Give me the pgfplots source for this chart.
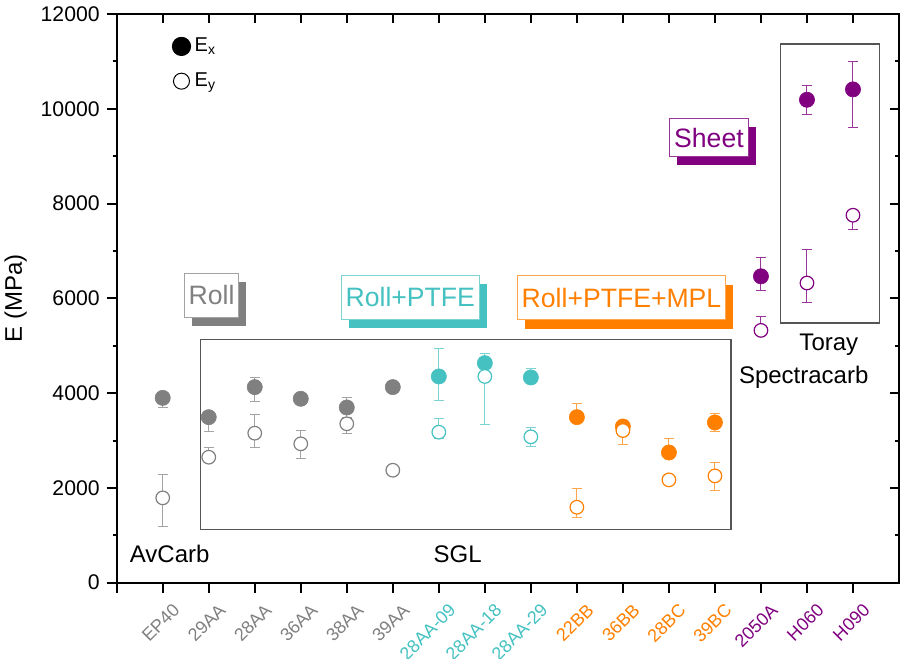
\documentclass[border=0pt]{standalone}
\usepackage{pgfplots}
\usepackage{pgfplotstable}
\pgfplotsset{compat=1.18}
\usepackage{fontspec}
\setmainfont{Liberation Sans}
\usetikzlibrary{shadows}
\definecolor{cgray}{HTML}{808080}
\definecolor{cgrayL}{HTML}{A3A3A3}
\definecolor{cteal}{HTML}{45C1C1}
\definecolor{ctealL}{HTML}{7CD3D3}
\definecolor{corange}{HTML}{FF8000}
\definecolor{corangeL}{HTML}{FFA64D}
\definecolor{cpurple}{HTML}{800080}
\definecolor{cpurpleL}{HTML}{9A339A}
\definecolor{cbox}{HTML}{555555}

% Ex (filled)
\pgfplotstableread{
x y ep em
0 3900 100 210
1 3493 100 300
2 4127 200 300
3 3881 100 100
4 3697 205 205
5 4127 80 80
}\exgray
\pgfplotstableread{
x y ep em
6 4352 600 500
7 4633 212 100
8 4331 197 100
}\exteal
\pgfplotstableread{
x y ep em
9 3493 296 100
10 3296 100 100
11 2747 303 100
12 3381 197 197
}\exorange
\pgfplotstableread{
x y ep em
13 6465 395 295
14 10190 296 302
15 10409 592 810
}\expurple
% Ey (open)
\pgfplotstableread{
x y ep em
0 1790 492 600
1 2648 198 100
2 3155 395 309
3 2930 288 310
4 3353 100 205
5 2373 60 60
}\eygray
\pgfplotstableread{
x y ep em
6 3176 296 126
7 4352 100 1007
8 3078 190 205
}\eyteal
\pgfplotstableread{
x y ep em
9 1592 394 211
10 3211 100 302
11 2170 60 60
12 2254 288 310
}\eyorange
\pgfplotstableread{
x y ep em
13 5324 303 100
14 6324 697 402
15 7754 100 302
}\eypurple

\pgfplotsset{
  filledpts/.style={forget plot, only marks, mark=*, mark size=3.8pt, color=#1,
    mark options={solid, fill=#1, draw=#1, line width=0.3pt},
    error bars/.cd, y dir=both, y explicit,
    error bar style={#1L, line width=0.5pt},
    error mark options={rotate=90, mark size=2.6pt, line width=0.5pt, #1L}},
  openpts/.style={forget plot, only marks, mark=*, mark size=3.4pt, color=#1,
    mark options={solid, fill=white, draw=#1, line width=0.6pt},
    error bars/.cd, y dir=both, y explicit,
    error bar style={#1L, line width=0.5pt},
    error mark options={rotate=90, mark size=2.6pt, line width=0.5pt, #1L}},
}
\tikzset{
  lbl/.style={draw=#1L, fill=white, text=#1, line width=0.5pt, inner xsep=2.2pt,
    inner ysep=0pt, minimum height=22pt, font=\fontsize{13.3}{15}\selectfont,
    drop shadow={shadow xshift=3.7pt, shadow yshift=-4.5pt, fill=#1, opacity=1}},
}

\begin{document}
\begin{tikzpicture}
\begin{axis}[
  name=main,
  scale only axis, width=391.15pt, height=284.35pt,
  xmin=-1, xmax=16, ymin=0, ymax=12000,
  xtick={-1,0,...,15},
  xticklabels={{},
    \textcolor{cgray}{EP40},\textcolor{cgray}{29AA},\textcolor{cgray}{28AA},
    \textcolor{cgray}{36AA},\textcolor{cgray}{38AA},\textcolor{cgray}{39AA},
    \textcolor{cteal}{28AA-09},\textcolor{cteal}{28AA-18},\textcolor{cteal}{28AA-29},
    \textcolor{corange}{22BB},\textcolor{corange}{36BB},\textcolor{corange}{28BC},
    \textcolor{corange}{39BC},\textcolor{cpurple}{2050A},\textcolor{cpurple}{H060},
    \textcolor{cpurple}{H090}},
  ytick={0,2000,...,12000},
  minor ytick={1000,3000,...,11000},
  scaled y ticks=false,
  /pgf/number format/set thousands separator={},
  /pgf/number format/assume math mode=true,
  xtick pos=bottom, ytick pos=left,
  tick align=outside,
  major tick length=5pt, minor tick length=2pt,
  every tick/.style={black, line width=1pt},
  minor tick style={black, line width=1pt},
  axis line style={line width=1pt},
  xticklabel style={font=\fontsize{9}{11}\selectfont, xshift=4.5pt, rotate=45, anchor=north east},
  yticklabel style={font=\fontsize{10.6}{12}\selectfont},
  ylabel={E (MPa)},
  ylabel style={font=\fontsize{12}{14}\selectfont},
  legend style={draw=none, fill=none, at={(0.068,0.969)}, anchor=north west,
    font=\fontsize{10}{12}\selectfont, row sep=5pt, inner sep=1pt},
  legend cell align=left,
]
\addlegendimage{legend image code/.code={\draw[mark=*, mark size=4.6pt, black] plot coordinates {(0pt,0pt)};}}
\addlegendentry{E\textsubscript{x}}
\addlegendimage{legend image code/.code={\draw[mark=*, mark size=4pt, black, mark options={fill=white, line width=0.5pt}] plot coordinates {(0pt,0pt)};}}
\addlegendentry{E\textsubscript{y}}

\draw[cbox, line width=0.6pt] (axis cs:0.825,1126) rectangle (axis cs:12.35,5134);
\draw[cbox, line width=0.6pt] (axis cs:13.43,5479) rectangle (axis cs:15.57,11367);

\addplot[filledpts=cgray] table[x=x, y=y, y error plus=ep, y error minus=em] {\exgray};
\addplot[filledpts=cteal] table[x=x, y=y, y error plus=ep, y error minus=em] {\exteal};
\addplot[filledpts=corange] table[x=x, y=y, y error plus=ep, y error minus=em] {\exorange};
\addplot[filledpts=cpurple] table[x=x, y=y, y error plus=ep, y error minus=em] {\expurple};
\addplot[openpts=cgray] table[x=x, y=y, y error plus=ep, y error minus=em] {\eygray};
\addplot[openpts=cteal] table[x=x, y=y, y error plus=ep, y error minus=em] {\eyteal};
\addplot[openpts=corange] table[x=x, y=y, y error plus=ep, y error minus=em] {\eyorange};
\addplot[openpts=cpurple] table[x=x, y=y, y error plus=ep, y error minus=em] {\eypurple};

\node[font=\fontsize{12}{14}\selectfont, anchor=base] at (axis cs:0.152,422) {AvCarb};
\node[font=\fontsize{12}{14}\selectfont, anchor=base] at (axis cs:6.41,422) {SGL};
\node[font=\fontsize{12}{14}\selectfont, anchor=base] at (axis cs:14.475,4910) {Toray};
\node[font=\fontsize{12}{14}\selectfont, anchor=base] at (axis cs:13.93,4193) {Spectracarb};

\node[lbl=cgray] at (axis cs:1.063,6062) {Roll};
\node[lbl=cteal] at (axis cs:5.38,6022) {Roll+PTFE};
\node[lbl=corange] at (axis cs:9.97,6008) {Roll+PTFE+MPL};
\node[lbl=cpurple, minimum height=19pt] at (axis cs:11.87,9394) {Sheet};
\end{axis}
\begin{axis}[
  scale only axis, width=391.15pt, height=284.35pt,
  xmin=-1, xmax=16, ymin=0, ymax=12000,
  xtick={0,...,15}, xticklabels={},
  ytick={0,2000,...,12000}, yticklabels={},
  minor ytick={1000,3000,...,11000},
  xtick pos=top, ytick pos=right,
  tick align=inside,
  major tick length=4.5pt, minor tick length=2pt,
  every tick/.style={black, line width=1pt},
  minor tick style={black, line width=1pt},
  axis line style={line width=1pt},
]
\end{axis}
\pgfresetboundingbox
\path ([xshift=-58.35pt, yshift=-38.15pt]main.south west) rectangle ([xshift=1pt, yshift=7pt]main.north east);
\end{tikzpicture}
\end{document}
